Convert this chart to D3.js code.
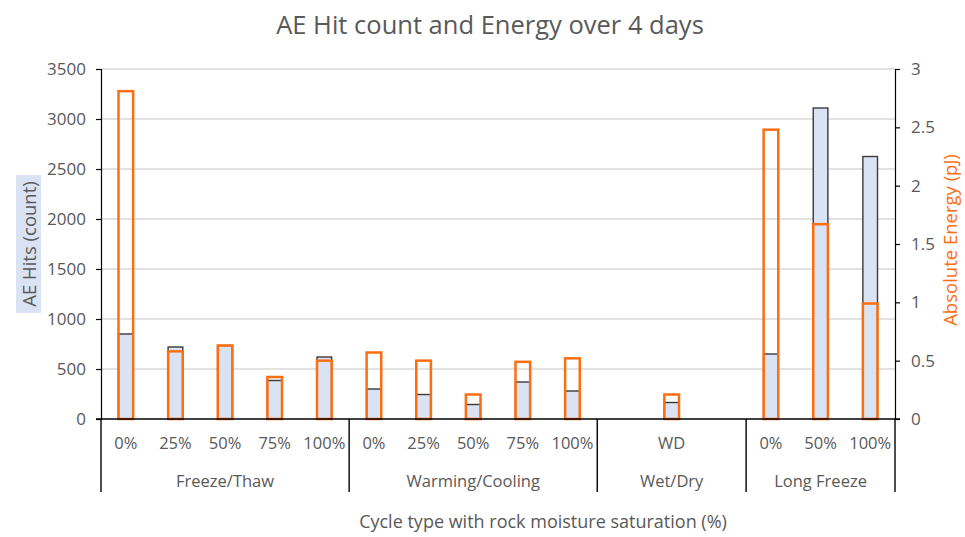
<!DOCTYPE html>
<html>
<head>
<meta charset="utf-8">
<script src="https://cdn.jsdelivr.net/npm/d3@7"></script>
<style>
  html, body { margin: 0; padding: 0; background: #fff; }
  svg { display: block; }
  text { font-family: "Open Sans", "Liberation Sans", sans-serif; fill: #595959; }
</style>
</head>
<body>
<svg id="chart" width="965" height="537"></svg>
<script>
// ---- data ----
const tickLabels = ["0%","25%","50%","75%","100%","0%","25%","50%","75%","100%","","WD","","0%","50%","100%"];
const groupNames = ["Freeze/Thaw","Warming/Cooling","Wet/Dry","Long Freeze"];
const groupSizes = [5,5,3,3];
const hits   = [850,720,735,385,620,300,245,145,370,280,null,165,null,650,3110,2625];
const energy = [2.81,0.58,0.63,0.36,0.50,0.57,0.50,0.21,0.49,0.52,null,0.21,null,2.48,1.67,0.99];
const leftTicks = [0,500,1000,1500,2000,2500,3000,3500];
const rightTicks = [0,0.5,1,1.5,2,2.5,3];

// ---- layout ----
const svg = d3.select("#chart");
const L = 101, R = 895, T = 69, B = 419;
const ORANGE = "#fd6e12", BLUE = "#dae3f3", DARK = "#3a3a3a", GRID = "#d9d9d9";

const slots = d3.range(tickLabels.length);
const x = d3.scaleBand().domain(slots).range([L, R]).paddingInner(0.705).paddingOuter(0.3525);
const step = x.step();
const yL = d3.scaleLinear().domain([0, 3500]).range([B, T]);
const yR = d3.scaleLinear().domain([0, 3]).range([B, T]);

// title
svg.append("text").attr("x", 490).attr("y", 34).attr("text-anchor", "middle")
  .style("font-size", "25.5px").text("AE Hit count and Energy over 4 days");

// gridlines
svg.append("g").selectAll("line").data(leftTicks.filter(d => d > 0)).join("line")
  .attr("x1", L).attr("x2", R).attr("y1", d => yL(d)).attr("y2", d => yL(d))
  .attr("stroke", GRID).attr("stroke-width", 1.5);

// left axis
const gl = svg.append("g").attr("transform", `translate(${L},0)`)
  .call(d3.axisLeft(yL).tickValues(leftTicks).tickSize(5).tickPadding(10).tickFormat(d3.format("d")));
gl.select(".domain").attr("stroke", "#000").attr("stroke-width", 1.2);
gl.selectAll(".tick line").attr("stroke", "#000").attr("stroke-width", 1.2);
gl.selectAll(".tick text").style("font-size", "17px").attr("fill", "#595959").style("font-family", "Open Sans");

// right axis
const gr = svg.append("g").attr("transform", `translate(${R},0)`)
  .call(d3.axisRight(yR).tickValues(rightTicks).tickSize(5).tickPadding(11).tickFormat(d => d3.format("")(d)));
gr.select(".domain").attr("stroke", "#000").attr("stroke-width", 1.2);
gr.selectAll(".tick line").attr("stroke", "#000").attr("stroke-width", 1.2);
gr.selectAll(".tick text").style("font-size", "17px").attr("fill", "#595959").style("font-family", "Open Sans");

// hits bars
const idx = slots.filter(i => hits[i] != null);
svg.append("g").selectAll("rect").data(idx).join("rect")
  .attr("x", i => x(i)).attr("width", x.bandwidth())
  .attr("y", i => yL(hits[i])).attr("height", i => B - yL(hits[i]))
  .attr("fill", BLUE).attr("stroke", DARK).attr("stroke-width", 1.4);

// energy bars
const idxE = slots.filter(i => energy[i] != null);
svg.append("g").selectAll("rect").data(idxE).join("rect")
  .attr("x", i => x(i)).attr("width", x.bandwidth())
  .attr("y", i => yR(energy[i])).attr("height", i => B - yR(energy[i]))
  .attr("fill", "none").attr("stroke", ORANGE).attr("stroke-width", 2.5);

// x axis line
svg.append("line").attr("x1", L - 5).attr("x2", R + 5).attr("y1", B).attr("y2", B)
  .attr("stroke", "#000").attr("stroke-width", 1.4);

// x tick labels
svg.append("g").selectAll("text").data(slots).join("text")
  .attr("x", i => x(i) + x.bandwidth() / 2).attr("y", 449)
  .attr("text-anchor", "middle").style("font-size", "16.5px")
  .text(i => tickLabels[i]);

// group dividers and labels
let start = 0;
const bounds = [0];
groupSizes.forEach(s => { start += s; bounds.push(start); });
svg.append("g").selectAll("line").data(bounds).join("line")
  .attr("x1", b => L + b * step).attr("x2", b => L + b * step)
  .attr("y1", B).attr("y2", 492).attr("stroke", "#000").attr("stroke-width", 1.4);
svg.append("g").selectAll("text").data(groupNames).join("text")
  .attr("x", (g, k) => L + (bounds[k] + bounds[k + 1]) / 2 * step).attr("y", 487)
  .attr("text-anchor", "middle").style("font-size", "16.5px").text(g => g);

// x axis title
svg.append("text").attr("x", 543).attr("y", 528).attr("text-anchor", "middle")
  .style("font-size", "18px").text("Cycle type with rock moisture saturation (%)");

// left axis title with box
const lt = svg.append("g").attr("transform", "translate(29,244) rotate(-90)");
lt.append("rect").attr("x", -69).attr("y", -13).attr("width", 138).attr("height", 25).attr("fill", BLUE);
lt.append("text").attr("x", 0).attr("y", 6.5).attr("text-anchor", "middle")
  .style("font-size", "18.5px").text("AE Hits (count)");

// right axis title
svg.append("text").attr("transform", "translate(957,240) rotate(-90)").attr("text-anchor", "middle")
  .style("font-size", "18.5px").style("fill", ORANGE).text("Absolute Energy (pJ)");
</script>
</body>
</html>
